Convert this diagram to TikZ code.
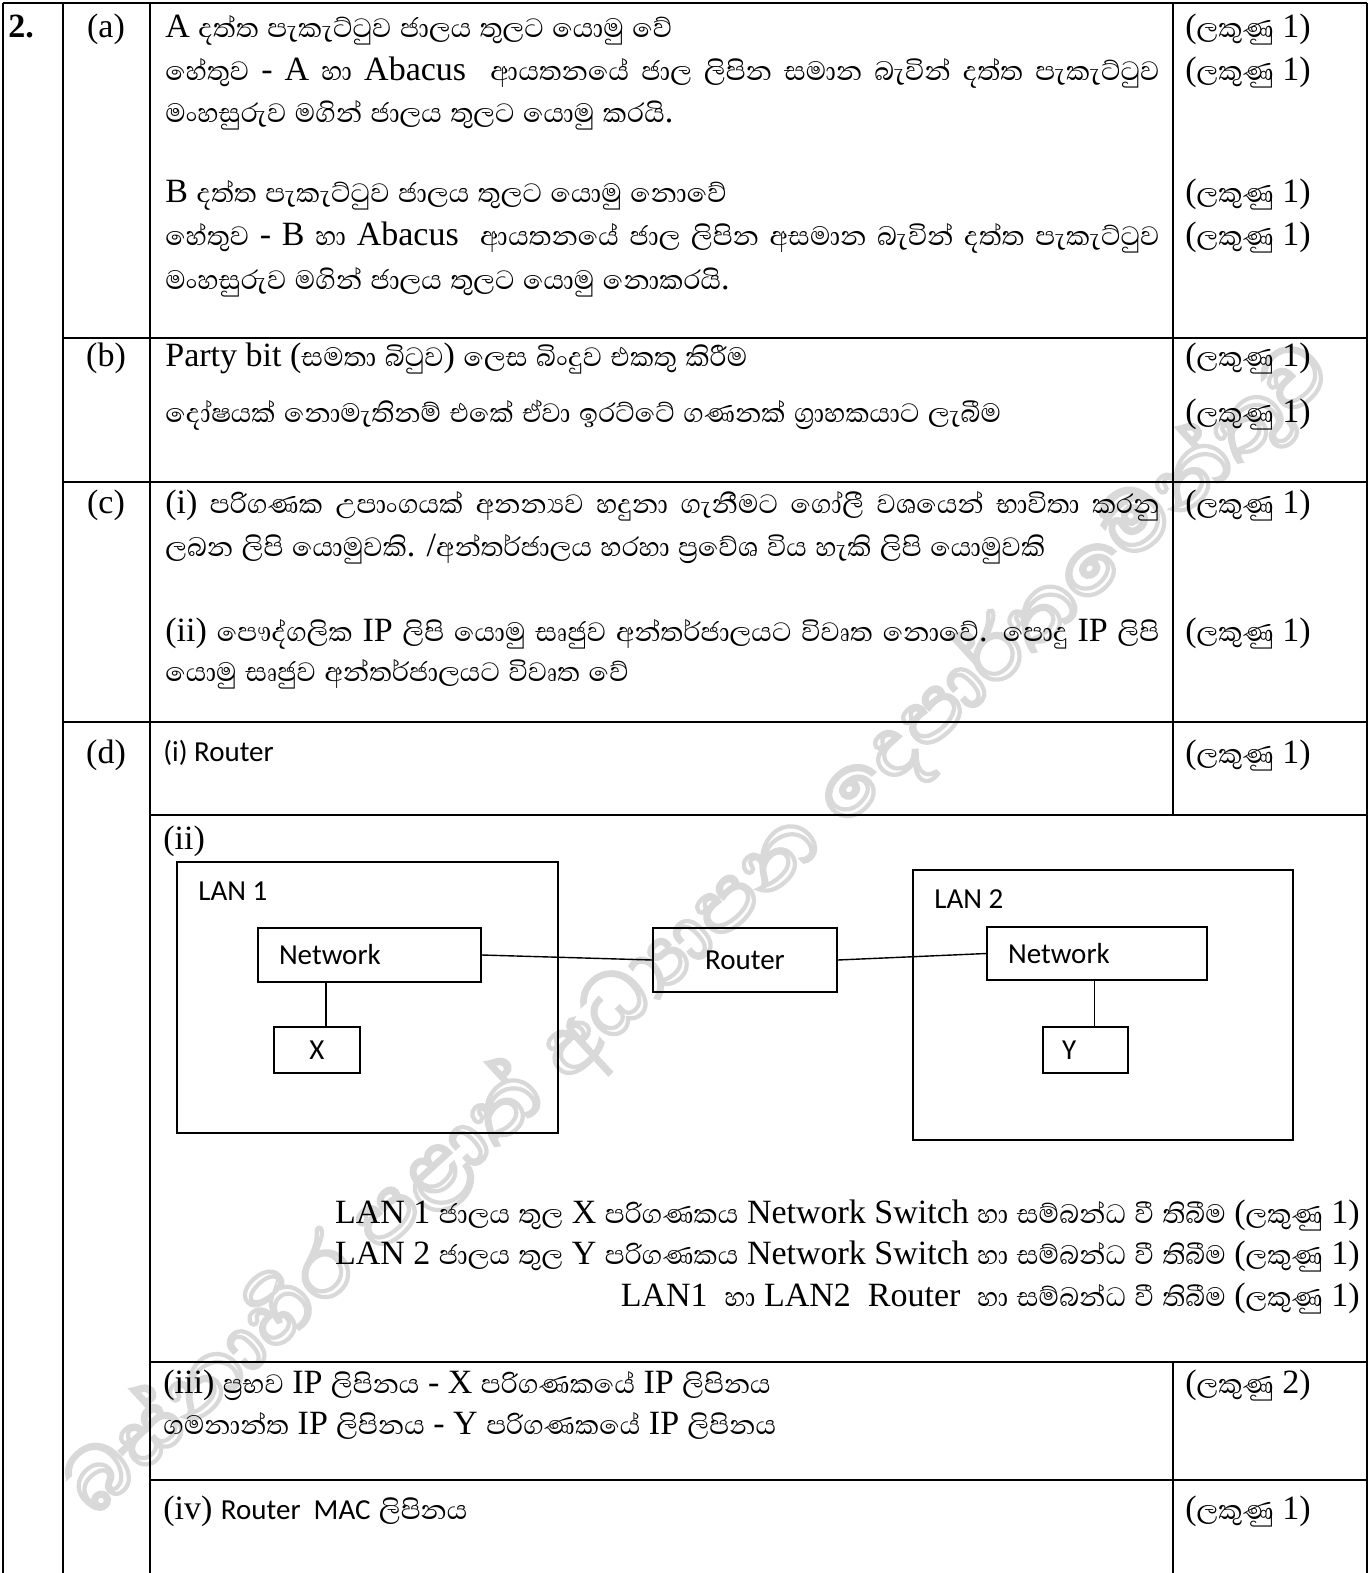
\documentclass[tikz,border=0pt]{standalone}
\usepackage{fontspec}
\usepackage{graphicx}
\setmainfont{Liberation Serif}
\newfontfamily\sinhalafont[Script=Sinhala]{Abhaya Libre}
\newfontfamily\calibrifont{Carlito}
\usetikzlibrary{positioning}

\XeTeXinterchartokenstate=1
\newXeTeXintercharclass\SinhClass
\count255="0D80
\loop
  \XeTeXcharclass\count255=\SinhClass
  \advance\count255 by 1
\ifnum\count255<"0E00 \repeat
\XeTeXcharclass"200D=\SinhClass
\XeTeXinterchartoks 0 \SinhClass={\sinhalafont}
\XeTeXinterchartoks 4095 \SinhClass={\sinhalafont}
\XeTeXinterchartoks \SinhClass 0={\rmfamily}
\XeTeXinterchartoks \SinhClass 4095={\rmfamily}

\newcommand{\fullline}[1]{\makebox[497pt][s]{#1}}
\newcommand{\lakunu}[1]{(ලකුණු #1)}

\begin{document}
\begin{tikzpicture}[x=0.5pt,y=-0.5pt,font=\fontsize{17}{20}\selectfont,
  rule/.style={line width=1.2pt},
  txt/.style={anchor=base west,inner sep=0pt},
  part/.style={anchor=base,inner sep=0pt},
  thinbox/.style={line width=0.7pt},
  netbox/.style={draw,line width=0.7pt,inner sep=0pt,font=\calibrifont\fontsize{14.5}{17}\selectfont},
  sans/.style={anchor=base west,inner sep=0pt,font=\calibrifont\fontsize{14.5}{17}\selectfont}]
\useasboundingbox (0,0) rectangle (1370,1573);

\node[rotate=42.6,inner sep=0pt,text=gray!30,font=\sinhalafont] (wmark) at (700,930)
  {\resizebox{842pt}{!}{\special{pdf:literal direct 1 Tr}බස්නාහිර පළාත් අධ්^^^^200dයාපන දෙපාර්තමේන්තුව\special{pdf:literal direct 0 Tr}}};

\draw[rule] (3,3) -- (1367,3);
\draw[rule] (3,3) -- (3,1573);
\draw[rule] (63,3) -- (63,1573);
\draw[rule] (150,3) -- (150,1573);
\draw[rule] (1173,3) -- (1173,815);
\draw[rule] (1173,1362) -- (1173,1573);
\draw[rule] (1367,3) -- (1367,1573);
\draw[rule] (63,338) -- (1367,338);
\draw[rule] (63,482) -- (1367,482);
\draw[rule] (63,722) -- (1367,722);
\draw[rule] (150,815) -- (1367,815);
\draw[rule] (150,1362) -- (1367,1362);
\draw[rule] (150,1480) -- (1367,1480);

\node[txt] (qno) at (8,38) {\textbf{2.}};
\node[part] (pa) at (106,38) {(a)};
\node[part] (pb) at (106,366) {(b)};
\node[part] (pc) at (106,513) {(c)};
\node[part] (pd) at (106,763) {(d)};

% (a)
\node[txt] (a1) at (165,38) {A දත්ත පැකැට්ටුව ජාලය තුලට යොමු වේ};
\node[txt] (a2) at (165,81) {\fullline{හේතුව - A හා Abacus \ ආයතනයේ ජාල ලිපින සමාන බැවින් දත්ත පැකැට්ටුව}};
\node[txt] (a3) at (165,123) {මංහසුරුව මගින් ජාලය තුලට යොමු කරයි.};
\node[txt] (a4) at (165,203) {B දත්ත පැකැට්ටුව ජාලය තුලට යොමු නොවේ};
\node[txt] (a5) at (165,246) {\fullline{හේතුව - B හා Abacus \ ආයතනයේ ජාල ලිපින අසමාන බැවින් දත්ත පැකැට්ටුව}};
\node[txt] (a6) at (165,289) {මංහසුරුව මගින් ජාලය තුලට යොමු නොකරයි.};
\node[txt] (ma1) at (1185,38) {\lakunu{1}};
\node[txt] (ma2) at (1185,81) {\lakunu{1}};
\node[txt] (ma3) at (1185,203) {\lakunu{1}};
\node[txt] (ma4) at (1185,246) {\lakunu{1}};

% (b)
\node[txt] (b1) at (165,366) {Party bit (සමතා බිටුව) ලෙස බිංදුව එකතු කිරීම};
\node[txt] (b2) at (165,422) {දෝෂයක් නොමැතිනම් එකේ ඒවා ඉරට්ටේ ගණනක් ග්^^^^200dරාහකයාට ලැබීම};
\node[txt] (mb1) at (1185,366) {\lakunu{1}};
\node[txt] (mb2) at (1185,422) {\lakunu{1}};

% (c)
\node[txt] (c1) at (165,513) {\fullline{(i) පරිගණක උපාංගයක් අනන්^^^^200dයව හදුනා ගැනීමට ගෝලී වශයෙන් භාවිතා කරනු}};
\node[txt] (c2) at (165,556) {ලබන ලිපි යොමුවකි. /අන්තර්ජාලය හරහා ප්^^^^200dරවේශ විය හැකි ලිපි යොමුවකි};
\node[txt] (c3) at (165,641) {\fullline{(ii) පෞද්ගලික IP ලිපි යොමු සෘජුව අන්තර්ජාලයට විවෘත නොවේ. පොදු IP ලිපි}};
\node[txt] (c4) at (165,681) {යොමු සෘජුව අන්තර්ජාලයට විවෘත වේ};
\node[txt] (mc1) at (1185,513) {\lakunu{1}};
\node[txt] (mc2) at (1185,641) {\lakunu{1}};

% (d)
\node[sans] (d1) at (163,761) {(i) Router};
\node[txt] (md1) at (1185,763) {\lakunu{1}};
\node[txt] (d2) at (163,849) {(ii)};

\draw[thinbox] (177,862) rectangle (558,1133);
\draw[thinbox] (913,870) rectangle (1293,1140);
\node[sans] (lan1) at (198,900) {LAN 1};
\node[sans] (lan2) at (934,908) {LAN 2};

\node[netbox,minimum width=111.5pt,minimum height=27pt] (net1) at (369.5,955) {\makebox[111.5pt][l]{\hspace{10.5pt}Network}};
\node[netbox,minimum width=92pt,minimum height=32pt] (router) at (745,960) {Router};
\node[netbox,minimum width=110pt,minimum height=26.5pt] (net2) at (1097,953.5) {\makebox[110pt][l]{\hspace{10.5pt}Network}};
\node[netbox,minimum width=43pt,minimum height=23pt] (pcx) at (317,1050) {X};
\node[netbox,minimum width=42.5pt,minimum height=23pt] (pcy) at (1085.5,1050) {\makebox[42.5pt][l]{\hspace{9.5pt}Y}};

\draw[thinbox] (net1.east) -- (router.west);
\draw[thinbox] (router.east) -- (net2.west);
\draw[thinbox] ([xshift=4.5pt]pcx.north) -- ([xshift=4.5pt]pcx.north |- net1.south);
\draw[thinbox] ([xshift=4.5pt]pcy.north) -- ([xshift=4.5pt]pcy.north |- net2.south);

\node[anchor=base east,inner sep=0pt] (l1) at (1360,1223) {LAN 1 ජාලය තුල X පරිගණකය Network Switch හා සම්බන්ධ වී තිබීම \lakunu{1}};
\node[anchor=base east,inner sep=0pt] (l2) at (1360,1264) {LAN 2 ජාලය තුල Y පරිගණකය Network Switch හා සම්බන්ධ වී තිබීම \lakunu{1}};
\node[anchor=base east,inner sep=0pt] (l3) at (1360,1306) {LAN1 \ හා LAN2 \ Router \ හා සම්බන්ධ වී තිබීම \lakunu{1}};

\node[txt] (d3) at (163,1393) {(iii) ප්^^^^200dරභව IP ලිපිනය - X පරිගණකයේ IP ලිපිනය};
\node[txt] (d4) at (163,1434) {ගමනාන්ත IP ලිපිනය - Y පරිගණකයේ IP ලිපිනය};
\node[txt] (md3) at (1185,1393) {\lakunu{2}};
\node[txt] (d5) at (163,1519) {(iv) {\calibrifont\fontsize{14.5}{17}\selectfont Router \ MAC} ලිපිනය};
\node[txt] (md4) at (1185,1519) {\lakunu{1}};
\end{tikzpicture}
\end{document}
